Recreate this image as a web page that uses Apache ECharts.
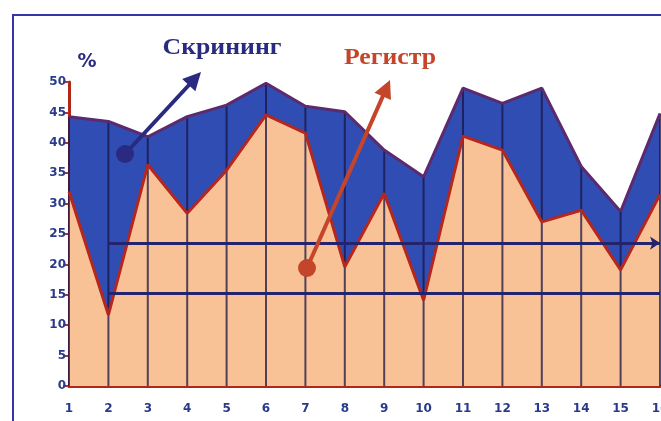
<!DOCTYPE html>
<html><head><meta charset="utf-8">
<script src="https://cdn.jsdelivr.net/npm/echarts@6/dist/echarts.min.js"></script>
<style>html,body{margin:0;padding:0;background:#fff}#c{width:661px;height:421px}</style>
</head><body><div id="c"></div>
<script>
const categories = ['1','2','3','4','5','6','7','8','9','10','11','12','13','14','15','16'];
const screening = [44.3, 43.5, 41.0, 44.3, 46.2, 49.8, 46.0, 45.1, 38.8, 34.4, 49.0, 46.5, 49.0, 36.1, 28.7, 44.8];
const register  = [32.0, 11.7, 36.4, 28.4, 35.5, 44.6, 41.6, 19.6, 31.7, 14.1, 41.1, 38.8, 27.0, 28.9, 19.1, 31.5];
const refLevels = [23.5, 15.3];
const refStart = '2';
const refEnd = '16';
const yMin = 0, yMax = 50, yStep = 5;
const labels = { unit: '%', screening: 'Скрининг', register: 'Регистр' };

const chart = echarts.init(document.getElementById('c'), null, {renderer: 'canvas'});

function arrow(x0, y0, x1, y1, color) {
  const dx = x1 - x0, dy = y1 - y0, L = Math.hypot(dx, dy);
  const ux = dx / L, uy = dy / L, px = -uy, py = ux;
  const hl = 18, hw = 9;
  const bx = x1 - ux * hl, by = y1 - uy * hl;
  return [
    {type: 'line', shape: {x1: x0, y1: y0, x2: bx + ux * 2, y2: by + uy * 2}, style: {stroke: color, lineWidth: 4}, z: 100},
    {type: 'polygon', shape: {points: [[x1, y1], [bx + px * hw, by + py * hw], [bx - px * hw, by - py * hw]]}, style: {fill: color}, z: 100},
    {type: 'circle', shape: {cx: x0, cy: y0, r: 9}, style: {fill: color}, z: 100}
  ];
}

const navy = '#2a2a80';
const rust = '#c4452a';
const labelFont = {color: '#2a3a8a', fontWeight: 'bold', fontSize: 12, fontFamily: 'DejaVu Sans'};

const option = {
  backgroundColor: '#ffffff',
  animation: false,
  grid: {left: 69, right: 1, top: 82, bottom: 35, containLabel: false, outerBoundsMode: 'none'},
  xAxis: {
    type: 'category', data: categories, boundaryGap: false,
    axisLine: {lineStyle: {color: '#b02818', width: 3}},
    axisTick: {show: false},
    axisLabel: Object.assign({margin: 17, showMaxLabel: true, hideOverlap: false}, labelFont),
    splitLine: {show: false}
  },
  yAxis: {
    type: 'value', min: yMin, max: yMax, interval: yStep,
    axisLine: {show: true, lineStyle: {color: '#b02818', width: 3}},
    axisTick: {show: true, length: 6, lineStyle: {color: '#c03020', width: 2}},
    axisLabel: Object.assign({margin: 3}, labelFont),
    splitLine: {show: false}
  },
  series: [
    {type: 'line', data: screening, symbol: 'none', lineStyle: {width: 0}, areaStyle: {color: '#2f4db2', opacity: 1}, z: 1},
    {type: 'line', data: register, symbol: 'none', lineStyle: {width: 0}, areaStyle: {color: '#f8c196', opacity: 1}, z: 1},
    {type: 'bar', data: screening, barWidth: 2, itemStyle: {color: 'rgba(25,20,70,0.75)'}, z: 2},
    {type: 'line', data: screening, symbol: 'none', lineStyle: {color: '#5c2a6e', width: 3}, z: 3},
    {type: 'line', data: register, symbol: 'none', lineStyle: {color: '#b5261e', width: 3}, z: 3,
      markLine: {
        silent: true, animation: false,
        label: {show: false},
        lineStyle: {color: '#24246e', width: 3, type: 'solid'},
        data: refLevels.map((v, i) => [
          {coord: [refStart, v], symbol: 'none'},
          {coord: [refEnd, v], symbol: i === 0 ? 'arrow' : 'none', symbolSize: 10}
        ])
      }
    }
  ],
  graphic: [
    {type: 'rect', shape: {x: 13, y: 15, width: 700, height: 500}, style: {fill: 'none', stroke: '#3535aa', lineWidth: 2}, z: 100},
    {type: 'text', x: 87, y: 62, style: {text: labels.unit, fill: navy, font: 'bold 19px "DejaVu Sans"', textAlign: 'center', textVerticalAlign: 'middle'}, z: 100},
    {type: 'text', x: 222, y: 48, scaleX: 1.12, style: {text: labels.screening, fill: navy, font: 'bold 23px "Liberation Serif"', textAlign: 'center', textVerticalAlign: 'middle'}, z: 100},
    {type: 'text', x: 390, y: 58, scaleX: 1.12, style: {text: labels.register, fill: rust, font: 'bold 23px "Liberation Serif"', textAlign: 'center', textVerticalAlign: 'middle'}, z: 100},
    ...arrow(125, 154, 201, 72, navy),
    ...arrow(307, 268, 390, 80, rust)
  ]
};
chart.setOption(option);
</script>
</body></html>
